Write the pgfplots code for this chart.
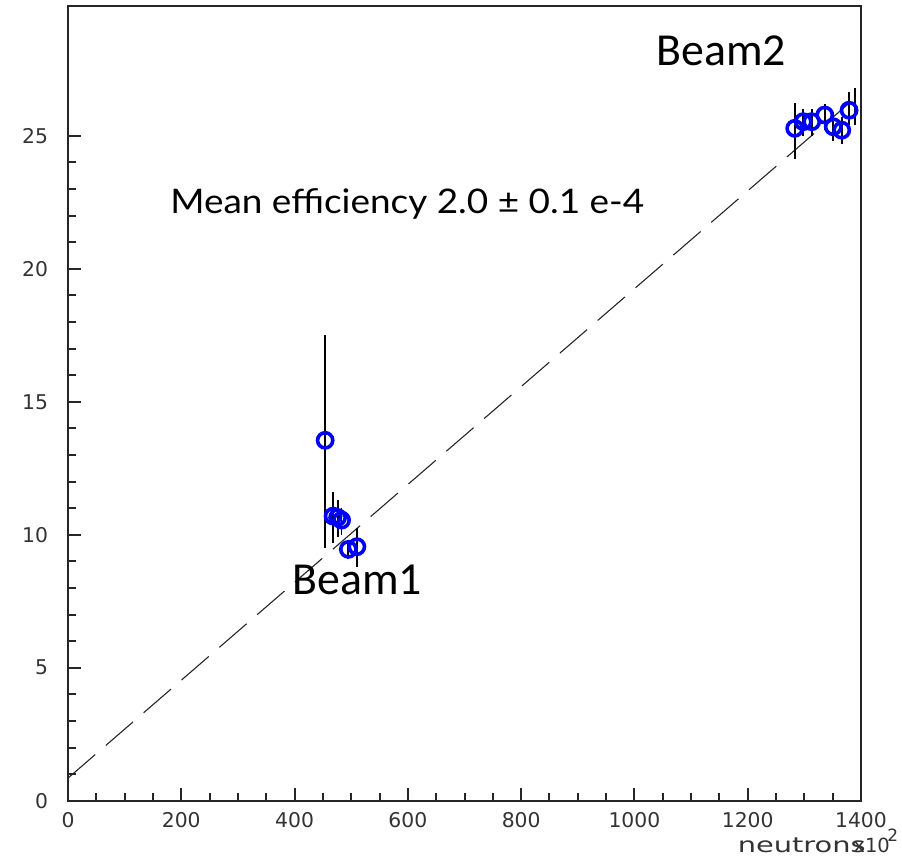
\documentclass[border=0pt]{standalone}
\usepackage{fontspec}
\setmainfont{DejaVu Sans}
\newfontfamily\calib{Carlito}
\newfontfamily\comic{Lato}
\usepackage{pgfplots}
\usepackage{pgfplotstable}
\pgfplotsset{compat=1.18}

\pgfplotstableread{
x    y      ep    em
454  13.55  3.95  4.05
468  10.70  0.90  1.00
476  10.65  0.65  0.75
483  10.55  0.45  0.55
495  9.45   0.35  0.35
510  9.55   0.70  0.75
}\beamone

\pgfplotstableread{
x     y      ep    em
1283  25.28  0.96  1.17
1298  25.53  0.47  0.53
1313  25.53  0.47  0.53
1336  25.78  0.42  0.58
1351  25.34  0.56  0.54
1366  25.21  0.49  0.51
1379  25.96  0.70  0.56
}\beamtwo

\pgfplotstableread{
x     y      ep    em
1389  26.10  0.68  0.70
}\beamextra

\begin{document}
\begin{tikzpicture}
\useasboundingbox (-34bp,-32.65bp) rectangle (417bp,400.35bp);
\begin{axis}[
  at={(0,0)}, anchor=south west,
  scale only axis,
  width=396.5bp, height=397.35bp,
  xmin=0, xmax=1400,
  ymin=0, ymax=29.88,
  xtick={0,200,...,1400},
  ytick={0,5,...,25},
  minor x tick num=3,
  minor y tick num=4,
  tick align=inside,
  xtick pos=bottom,
  ytick pos=left,
  major tick length=6.5bp,
  minor tick length=4bp,
  axis line style={line width=1bp, black!85},
  every tick/.style={line width=1bp, black!85},
  tick label style={font=\fontsize{10.2}{12}\selectfont, text=black!80},
  /pgf/number format/assume math mode=true,
  /pgf/number format/set thousands separator={},
  xticklabel style={yshift=-2.3bp},
  yticklabel style={xshift=-6.5bp},
  clip=false,
]
\addplot[black!85, line width=0.55bp, dash pattern=on 18bp off 7bp] coordinates {(0,0.85) (1381,26.26)};

\addplot[only marks, mark=o, mark size=3.8bp, blue, mark options={line width=1.8bp, blue},
  error bars/.cd, y dir=both, y explicit, error mark=none,
  error bar style={black, line width=0.9bp}]
  table[x=x, y=y, y error plus=ep, y error minus=em] {\beamone};

\addplot[only marks, mark=o, mark size=3.8bp, blue, mark options={line width=1.8bp, blue},
  error bars/.cd, y dir=both, y explicit, error mark=none,
  error bar style={black, line width=0.9bp}]
  table[x=x, y=y, y error plus=ep, y error minus=em] {\beamtwo};

\addplot[draw=none, mark=none,
  error bars/.cd, y dir=both, y explicit, error mark=none,
  error bar style={draw=black, line width=0.9bp}]
  table[x=x, y=y, y error plus=ep, y error minus=em] {\beamextra};

\node[anchor=base west, inner sep=0pt, font=\calib\fontsize{23}{27}\selectfont] at (axis cs:1038,27.66) {Beam2};
\node[anchor=base west, inner sep=0pt, font=\calib\fontsize{23}{27}\selectfont] at (axis cs:395.5,7.74) {Beam1};
\node[anchor=base west, inner sep=0pt, font=\comic\fontsize{17}{20}\selectfont] at (axis cs:180,22.09) {\scalebox{1.09}[1]{Mean efficiency 2.0 ± 0.1 e-4}};

\node[anchor=base east, inner sep=0pt, font=\fontsize{10.5}{12}\selectfont, text=black!80] at (axis cs:1409,-1.93) {\scalebox{1.38}[1]{neutrons}};
\node[anchor=base west, inner sep=0pt, font=\fontsize{9.8}{12}\selectfont, text=black!80] at (axis cs:1386,-1.93) {x10};
\node[anchor=base west, inner sep=0pt, font=\fontsize{8.5}{10}\selectfont, text=black!80] at (axis cs:1446,-1.55) {2};
\end{axis}
\end{tikzpicture}
\end{document}
